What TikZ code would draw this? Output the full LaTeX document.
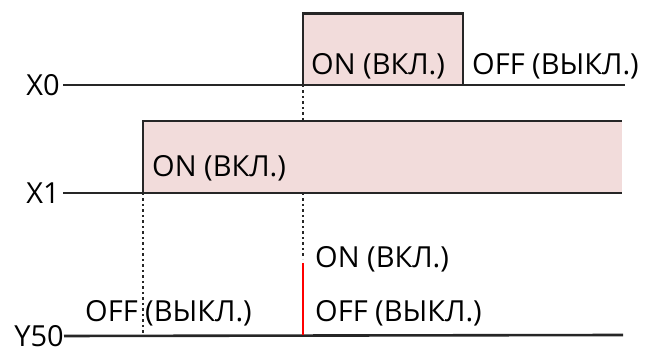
\documentclass[tikz,border=0pt]{standalone}
\usepackage{fontspec}
\setmainfont{Open Sans}
\usepackage{tikz}
\definecolor{pulsepink}{HTML}{F2DCDB}

\begin{document}
\begin{tikzpicture}[x=1pt, y=1pt,
		sig/.style={line width=2.6pt, black!85},
		guide/.style={line width=2.4pt, black!85, dash pattern=on 2.5pt off 3pt},
		txt/.style={inner sep=0pt, anchor=base west, font=\fontsize{29}{32}\selectfont},
		signame/.style={inner sep=0pt, anchor=east, font=\fontsize{29}{32}\selectfont}]
	\useasboundingbox (0,0) rectangle (648,347);
	
	% Pulses
	\fill[pulsepink] (303,262) rectangle (463,333.5);
	\draw[sig] (303,262) -- (303,333.5) -- (463,333.5) -- (463,262);
	\fill[pulsepink] (143,154) rectangle (622,226);
	\draw[sig] (143,154) -- (143,226) -- (622,226);
	
	% Signal names and lines
	\node[signame] (x0) at (60,262) {X0};
	\node[signame] (x1) at (60,154) {X1};
	\node[signame] (y50) at (64,11) {Y50};
	\draw[sig] (x0.east) ++(3,0) -- (625,262);
	\draw[sig] (x1.east) ++(3,0) -- (622,154);
	\draw[sig] (y50.east) -- (623,12);
	
	% Guide lines
	\draw[guide] (303,262) -- (303,226);
	\draw[guide] (303,154) -- (303,88);
	\draw[guide] (143,154) -- (143,12);
	\draw[red, line width=2.2pt] (303,84) -- (303,12);
	
	% States
	\node[txt] (x0on) at (311,272) {ON (ВКЛ.)};
	\node[txt] (x0off) at (472,272) {OFF (ВЫКЛ.)};
	\node[txt] (x1on) at (152,170) {ON (ВКЛ.)};
	\node[txt] (y50on) at (315,79) {ON (ВКЛ.)};
	\node[txt] (y50off) at (315,25) {OFF (ВЫКЛ.)};
	\node[txt] (y50offl) at (85,25) {OFF (ВЫКЛ.)};
	
\end{tikzpicture}
\end{document}
